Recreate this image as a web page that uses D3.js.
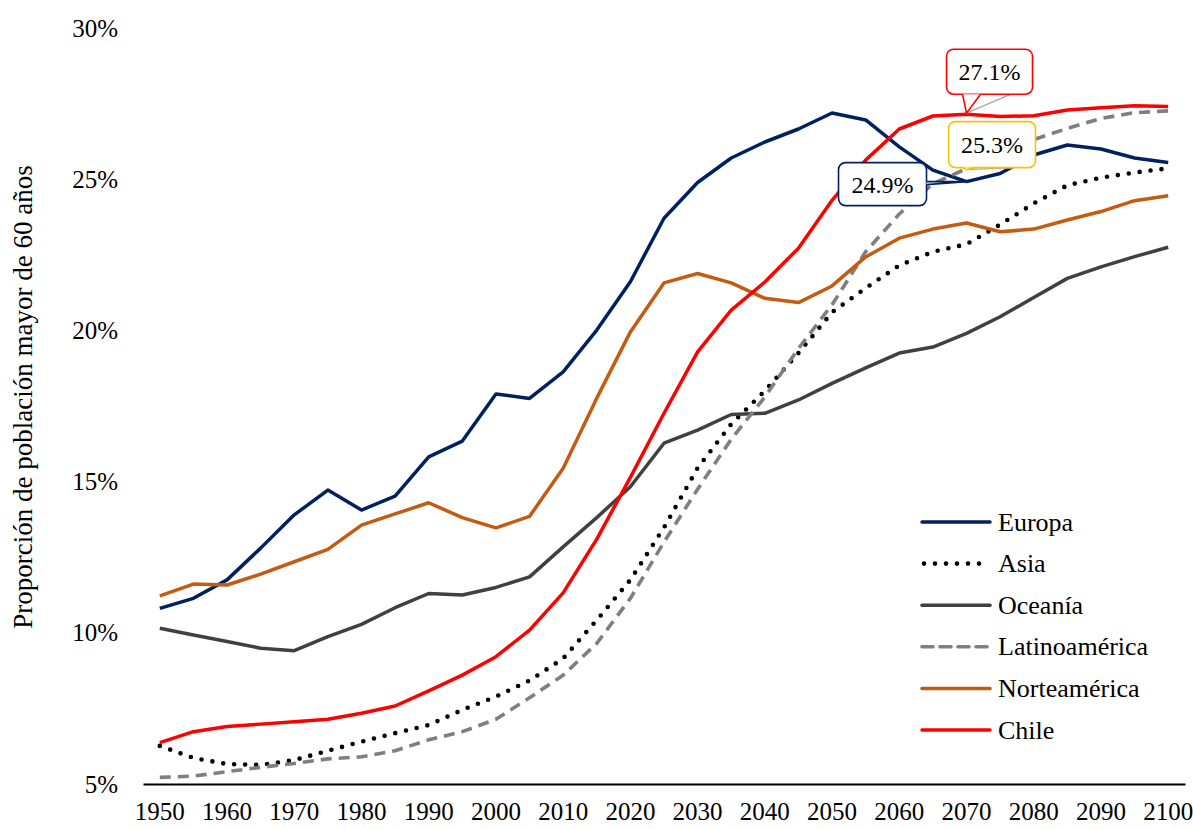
<!DOCTYPE html>
<html>
<head>
<meta charset="utf-8">
<script src="https://cdn.jsdelivr.net/npm/d3@7"></script>
<style>
  body { margin: 0; background: #fff; }
  svg text { font-family: "Liberation Serif", "DejaVu Serif", serif; fill: #000; }
</style>
</head>
<body>
<svg id="chart" width="1193" height="829"></svg>
<script>
// categorias (eje x)
var years = [1950, 1955, 1960, 1965, 1970, 1975, 1980, 1985, 1990, 1995, 2000, 2005, 2010, 2015, 2020,
  2025, 2030, 2035, 2040, 2045, 2050, 2055, 2060, 2065, 2070, 2075, 2080, 2085, 2090, 2095, 2100]

// valores en %
var europa = [10.81, 11.14, 11.75, 12.8, 13.9, 14.72, 14.06, 14.52, 15.82, 16.34, 17.9, 17.75, 18.63, 20.01, 21.61,
  23.71, 24.89, 25.7, 26.23, 26.66, 27.19, 26.96, 26.07, 25.3, 24.92, 25.19, 25.8, 26.13, 26.0, 25.7, 25.55]
var asia = [6.26, 5.86, 5.66, 5.63, 5.79, 6.1, 6.4, 6.68, 6.95, 7.45, 7.89, 8.42, 9.15, 10.42, 11.75,
  13.48, 15.45, 16.9, 18.0, 19.25, 20.6, 21.4, 22.15, 22.6, 22.85, 23.5, 24.2, 24.8, 25.05, 25.22, 25.36]
var oceania = [10.15, 9.93, 9.71, 9.49, 9.41, 9.87, 10.28, 10.83, 11.3, 11.25, 11.5, 11.85, 12.84, 13.81, 14.83,
  16.27, 16.7, 17.22, 17.26, 17.7, 18.25, 18.76, 19.25, 19.45, 19.9, 20.45, 21.09, 21.72, 22.1, 22.44, 22.75]
var latam = [5.22, 5.26, 5.41, 5.55, 5.68, 5.83, 5.9, 6.1, 6.46, 6.73, 7.14, 7.85, 8.6, 9.65, 11.14,
  13.0, 14.75, 16.4, 17.8, 19.4, 20.85, 22.6, 23.85, 24.85, 25.35, 25.9, 26.31, 26.68, 27.01, 27.2, 27.26]
var norteamerica = [11.22, 11.61, 11.58, 11.94, 12.35, 12.76, 13.56, 13.93, 14.3, 13.81, 13.47, 13.85, 15.44, 17.76, 19.95,
  21.57, 21.88, 21.57, 21.06, 20.92, 21.47, 22.43, 23.05, 23.35, 23.55, 23.26, 23.35, 23.65, 23.93, 24.29, 24.45]
var chile = [6.37, 6.73, 6.9, 6.98, 7.06, 7.14, 7.34, 7.58, 8.08, 8.6, 9.21, 10.09, 11.32, 13.1, 15.14,
  17.26, 19.29, 20.67, 21.6, 22.72, 24.3, 25.63, 26.66, 27.09, 27.15, 27.07, 27.1, 27.29, 27.36, 27.43, 27.4]

var names = ["Europa", "Asia", "Oceanía", "Latinoamérica", "Norteamérica", "Chile"]
var yTicks = [5, 10, 15, 20, 25, 30]

// etiquetas de datos (año 2070)
var labelYear = 2070
var labelSeries = ["Chile", "Latinoamérica", "Europa"]
var labelText = ["27.1%", "25.3%", "24.9%"]

var series = [
  { name: names[0], values: europa, color: "#002060", dash: null, width: 3.5 },
  { name: names[1], values: asia, color: "#000000", dash: "0 11", width: 4.6, cap: "round" },
  { name: names[2], values: oceania, color: "#404040", dash: null, width: 3.5 },
  { name: names[3], values: latam, color: "#7f7f7f", dash: "11 7", width: 3.6 },
  { name: names[4], values: norteamerica, color: "#c55a11", dash: null, width: 3.5 },
  { name: names[5], values: chile, color: "#ff0000", dash: null, width: 3.5 }
]

var svg = d3.select("#chart")
var margin = { left: 143, right: 8, top: 28, bottom: 45 }
var width = +svg.attr("width"), height = +svg.attr("height")

var x = d3.scaleBand()
  .domain(years)
  .range([margin.left, width - margin.right])
  .padding(0)
var xc = d => x(d) + x.bandwidth() / 2

var y = d3.scaleLinear()
  .domain([5, 30])
  .range([height - margin.bottom, margin.top])

// eje x
var xAxis = svg.append("g")
  .attr("transform", "translate(0," + y(5) + ")")
  .call(d3.axisBottom(x).tickValues(years.filter((d, i) => i % 2 == 0)).tickSize(0).tickPadding(18))
xAxis.select(".domain").attr("stroke", "#000").attr("stroke-width", 2)
xAxis.selectAll("text").style("font-size", "25px")

// eje y
var yAxis = svg.append("g")
  .attr("transform", "translate(" + margin.left + ",0)")
  .call(d3.axisLeft(y).tickValues(yTicks).tickFormat(d => d + "%").tickSize(0).tickPadding(25))
yAxis.select(".domain").remove()
yAxis.selectAll("text").style("font-size", "25px")

svg.append("text")
  .attr("transform", "translate(32,397) rotate(-90)")
  .attr("text-anchor", "middle")
  .style("font-size", "27px")
  .text("Proporción de población mayor de 60 años")

var line = d3.line()
  .x((d, i) => xc(years[i]))
  .y(d => y(d))

svg.selectAll("path.serie")
  .data(series)
  .enter()
  .append("path")
  .attr("class", "serie")
  .attr("d", d => line(d.values))
  .attr("fill", "none")
  .attr("stroke", d => d.color)
  .attr("stroke-width", d => d.width)
  .attr("stroke-dasharray", d => d.dash)
  .attr("stroke-linecap", d => d.cap || "butt")
  .attr("stroke-linejoin", "round")

// leyenda
var legend = svg.append("g")
  .attr("transform", "translate(922,522)")

legend.selectAll("line")
  .data(series)
  .enter()
  .append("line")
  .attr("x1", d => d.cap ? 2 : 0)
  .attr("x2", 68)
  .attr("y1", (d, i) => i * 41.6)
  .attr("y2", (d, i) => i * 41.6)
  .attr("stroke", d => d.color)
  .attr("stroke-width", d => d.width)
  .attr("stroke-dasharray", d => d.dash)
  .attr("stroke-linecap", d => d.cap || "round")

legend.selectAll("text")
  .data(series)
  .enter()
  .append("text")
  .attr("x", 76)
  .attr("y", (d, i) => i * 41.6)
  .attr("dy", "0.33em")
  .style("font-size", "26px")
  .text(d => d.name)

// callouts
var boxes = [
  { left: -20, top: -65, w: 86, h: 45, side: "bottom", t1: -4, t2: 14, tip: [0, -1] },
  { left: -18, top: -47, w: 87, h: 46, side: "bottom", t1: -4, t2: 8, tip: [0, 1] },
  { left: -128, top: -19, w: 88, h: 43, side: "right", t1: 0, t2: 3, tip: [0, 0] }
]

labelSeries.forEach(function (name, k) {
  var s = series.find(d => d.name == name)
  var px = xc(labelYear), py = y(s.values[years.indexOf(labelYear)])
  var b = boxes[k]
  var g = svg.append("g").attr("transform", "translate(" + px + "," + py + ")")
  var tip = b.tip
  var p1, p2
  if (b.side == "bottom") {
    p1 = [b.t1, b.top + b.h]; p2 = [b.t2, b.top + b.h]
  } else {
    p1 = [b.left + b.w, b.t1]; p2 = [b.left + b.w, b.t2]
  }
  // linea guia
  g.append("line")
    .attr("x1", tip[0]).attr("y1", tip[1])
    .attr("x2", b.side == "bottom" ? b.left + b.w * 0.75 : b.left + b.w)
    .attr("y2", b.side == "bottom" ? b.top + b.h : 2)
    .attr("stroke", "#a6a6a6").attr("stroke-width", 1.3)
  g.append("rect")
    .attr("x", b.left).attr("y", b.top)
    .attr("width", b.w).attr("height", b.h)
    .attr("rx", 7)
    .attr("fill", "#fff")
    .attr("stroke", name == "Latinoamérica" ? "#ffc000" : s.color)
    .attr("stroke-width", 1.6)
  g.append("polygon")
    .attr("points", [p1, tip, p2].map(p => p.join(",")).join(" "))
    .attr("fill", "#fff")
  g.append("polyline")
    .attr("points", [p1, tip, p2].map(p => p.join(",")).join(" "))
    .attr("fill", "none")
    .attr("stroke", name == "Latinoamérica" ? "#ffc000" : s.color)
    .attr("stroke-width", 1.6)
  g.append("text")
    .attr("x", b.left + b.w / 2)
    .attr("y", b.top + b.h / 2)
    .attr("dy", "0.35em")
    .attr("text-anchor", "middle")
    .style("font-size", "24px")
    .text(labelText[k])
})
</script>
</body>
</html>
